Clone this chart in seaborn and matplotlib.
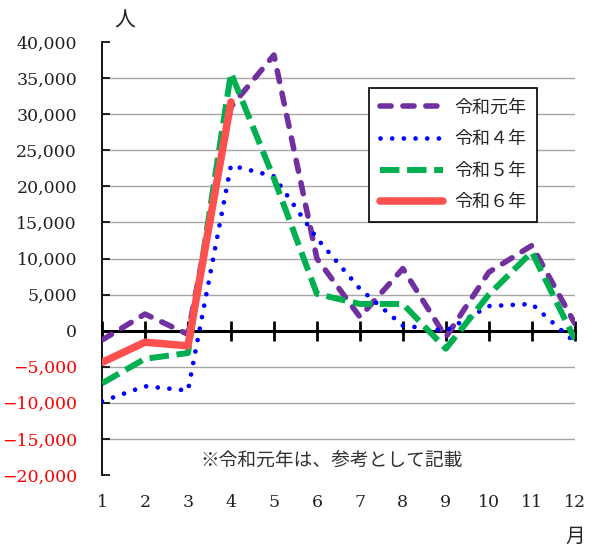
import matplotlib
matplotlib.use("Agg")
import matplotlib.pyplot as plt
import matplotlib.transforms as mtransforms
import seaborn as sns

months = [1, 2, 3, 4, 5, 6, 7, 8, 9, 10, 11, 12]
reiwa1 = [-1300, 2300, -500, 31000, 38200, 10000, 1900, 8600, -900, 8100, 11800, 1000]
reiwa4 = [-9800, -7700, -8300, 22900, 21400, 12800, 5800, 700, 0, 3400, 3700, -1600]
reiwa5 = [-7300, -3900, -3100, 35700, 21100, 5100, 3700, 3700, -2500, 5000, 10900, -1200]
reiwa6_months = [1, 2, 3, 4]
reiwa6 = [-4400, -1600, -2100, 31700]

series_labels = ["令和元年", "令和４年", "令和５年", "令和６年"]
yticks = [-20000, -15000, -10000, -5000, 0, 5000, 10000, 15000, 20000, 25000, 30000, 35000, 40000]
ytick_labels = ["−20,000", "−15,000", "−10,000", "−5,000", "0", "5,000", "10,000", "15,000",
                "20,000", "25,000", "30,000", "35,000", "40,000"]
xtick_labels = ["1", "2", "3", "4", "5", "6", "7", "8", "9", "10", "11", "12"]
unit_y = "人"
unit_x = "月"
note = "※令和元年は、参考として記載"

sns.set_theme(style="white")
plt.rcParams["lines.scale_dashes"] = False
plt.rcParams["font.family"] = ["DejaVu Serif", "Noto Sans CJK JP"]
jp = ["Noto Sans CJK JP", "DejaVu Sans"]

fig = plt.figure(figsize=(6, 5.5), dpi=100)
ax = fig.add_axes([0.17, 0.1364, 0.788, 0.7872])

# gridlines
for t in yticks[1:-1]:
    ax.axhline(t, color="#A6A6A6", lw=1.0, zorder=0.5)

sns.lineplot(x=months, y=reiwa1, ax=ax, color="#7030A0", lw=4.0,
             linestyle=(0, (8.0, 8.5)), dash_capstyle="round", label=series_labels[0], zorder=3)
sns.lineplot(x=months, y=reiwa4, ax=ax, color="#0000FF", lw=3.4,
             linestyle=(0, (0.01, 8.4)), dash_capstyle="round", label=series_labels[1], zorder=3)
sns.lineplot(x=months, y=reiwa5, ax=ax, color="#00B050", lw=4.3,
             linestyle=(0, (14, 5.5)), dash_capstyle="butt", label=series_labels[2], zorder=3)
sns.lineplot(x=reiwa6_months, y=reiwa6, ax=ax, color="#FF5050", lw=5.4,
             linestyle="-", solid_capstyle="round", label=series_labels[3], zorder=4)

ax.set_xlim(1, 12)
ax.set_ylim(-20000, 40000)
ax.set_yticks(yticks)
ax.set_yticklabels(ytick_labels, fontsize=12.5, family="DejaVu Serif")
for lab, v in zip(ax.get_yticklabels(), yticks):
    lab.set_color("#FF0000" if v < 0 else "#222222")
ax.tick_params(axis="y", direction="in", length=6, width=1.2, color="black", pad=18, left=True)

# x axis line at zero with crossing ticks
ax.spines["bottom"].set_position(("data", 0))
ax.spines["bottom"].set_linewidth(2.2)
ax.spines["bottom"].set_color("black")
ax.spines["bottom"].set_zorder(2.5)
ax.spines["left"].set_linewidth(1.3)
ax.spines["left"].set_color("black")
ax.spines["top"].set_visible(False)
ax.spines["right"].set_visible(False)
ax.set_xticks(months)
ax.tick_params(axis="x", direction="inout", length=14, width=2, color="black",
               labelbottom=False, bottom=True)

sec = ax.secondary_xaxis(0)
sec.spines["bottom"].set_visible(False)
sec.set_xticks(months)
sec.set_xticklabels(xtick_labels, fontsize=12.5, family="DejaVu Serif", color="#222222")
sec.tick_params(axis="x", length=0, pad=14)
sec.get_xticklabels()[-1].set_y(-0.012)

ax.text(12, -0.143, unit_x, transform=mtransforms.blended_transform_factory(ax.transData, ax.transAxes),
        ha="center", va="center", fontsize=14, family=jp, color="#222222")
ax.text(0.049, 1.05, unit_y, transform=ax.transAxes, ha="center", va="center",
        fontsize=15, family=jp, color="#222222")
ax.text(0.486, 0.035, note, transform=ax.transAxes, ha="center", va="center",
        fontsize=13.5, family=jp, color="#333333")

leg = ax.legend(loc="upper right", bbox_to_anchor=(0.92, 0.894), borderaxespad=0,
                prop={"family": jp, "size": 13}, handlelength=3.5, labelspacing=0.75,
                fancybox=False, framealpha=1, edgecolor="black", borderpad=0.6,
                handletextpad=0.6)
leg.get_frame().set_linewidth(1.2)

ax.set_xlabel("")
ax.set_ylabel("")
fig.savefig("out.png", dpi=100)
